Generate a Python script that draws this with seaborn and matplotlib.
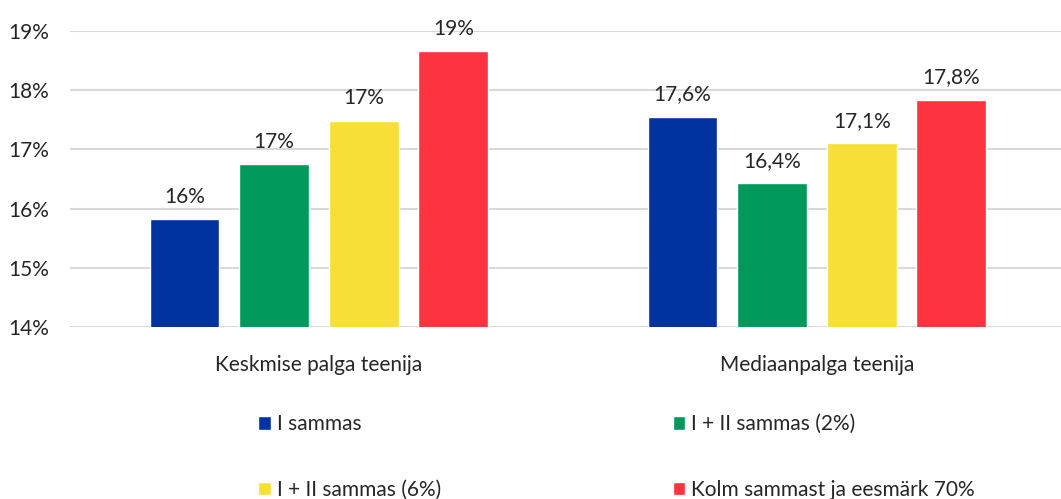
import numpy as np
import pandas as pd
import matplotlib
matplotlib.use("Agg")
import matplotlib.pyplot as plt
import seaborn as sns

# ---------------------------------------------------------
# DATA
# ---------------------------------------------------------
groups = ["Keskmise palga teenija", "Mediaanpalga teenija"]
series = ["I sammas", "I + II sammas (2%)", "I + II sammas (6%)",
          "Kolm sammast ja eesmärk 70%"]

vals_keskmine = [15.82, 16.75, 17.48, 18.66]
vals_mediaan = [17.55, 16.43, 17.10, 17.84]

labels_keskmine = ["16%", "17%", "17%", "19%"]
labels_mediaan = ["17,6%", "16,4%", "17,1%", "17,8%"]

yticks = [14, 15, 16, 17, 18, 19]
ytick_labels = ["14%", "15%", "16%", "17%", "18%", "19%"]

colors = ["#0033A0", "#00995C", "#F7DF38", "#FD333F"]

df = pd.DataFrame({
    "group": [groups[0]] * 4 + [groups[1]] * 4,
    "series": series * 2,
    "value": vals_keskmine + vals_mediaan,
})

# ---------------------------------------------------------
# STYLE
# ---------------------------------------------------------
sns.set_style("white")
plt.rcParams["font.family"] = ["Lato", "DejaVu Sans"]
FS = 15

fig = plt.figure(figsize=(10.61, 4.99), dpi=100)
ax = fig.add_axes([70 / 1061, 1 - 327 / 499, 1 - 70 / 1061, (327 - 31) / 499])

sns.barplot(
    data=df, x="group", y="value", hue="series",
    order=groups, hue_order=series, palette=colors,
    width=0.72, gap=0.22, saturation=1, legend=True,
    ax=ax, zorder=3,
)

ax.set_ylim(14, 19)
ax.set_xlim(-0.5, 1.49)
ax.set_yticks(yticks)
ax.set_yticklabels(ytick_labels, fontsize=FS)
ax.tick_params(axis="y", length=0, pad=15)
ax.tick_params(axis="x", length=0, pad=20, labelsize=FS)
ax.grid(axis="y", color="#D9D9D9", linewidth=1.5, zorder=0)
ax.set_axisbelow(True)
for s in ax.spines.values():
    s.set_visible(False)
ax.set_xlabel("")
ax.set_ylabel("")

# data labels
for i, cont in enumerate(ax.containers):
    ax.bar_label(cont, labels=[labels_keskmine[i], labels_mediaan[i]],
                 padding=9, fontsize=FS, clip_on=False)

# legend: row-wise order in 2 columns
handles, lbls = ax.get_legend_handles_labels()
ax.get_legend().remove()
order = [0, 2, 1, 3]
fig.legend(
    [handles[k] for k in order], [lbls[k] for k in order],
    ncol=2, loc="upper left", bbox_to_anchor=(250 / 1061, 1 - 406 / 499),
    frameon=False, fontsize=FS,
    handlelength=0.6, handleheight=0.6, handletextpad=0.3,
    columnspacing=11.1, labelspacing=2.2, borderaxespad=0,
)

fig.savefig("out.png", dpi=100)
